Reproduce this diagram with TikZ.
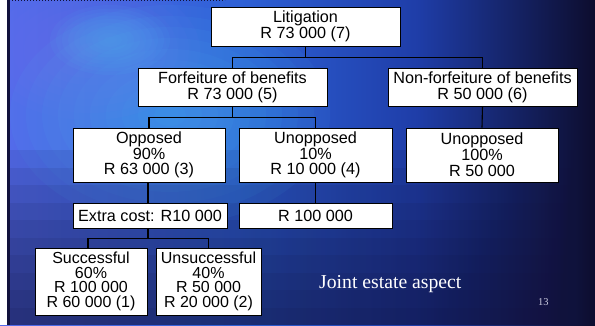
\documentclass[tikz,border=0pt]{standalone}
\usepackage{fontspec}
\setmainfont{Liberation Sans}
\newfontfamily\serifface{Liberation Serif}
\definecolor{navy}{RGB}{18,18,60}
\definecolor{glowc}{RGB}{75,195,245}
\definecolor{lav}{RGB}{125,120,240}
\definecolor{pgnum}{RGB}{205,205,225}
\pgfdeclarehorizontalshading{bgh}{100bp}{rgb(0bp)=(0.33,0.42,0.92); rgb(25bp)=(0.33,0.42,0.92); rgb(45bp)=(0.18,0.38,0.84); rgb(60bp)=(0.12,0.24,0.66); rgb(75bp)=(0.05,0.05,0.18); rgb(100bp)=(0.05,0.05,0.18)}
\begin{document}
\begin{tikzpicture}[x=1pt,y=-1pt,
  box/.style={draw=black, fill=white, line width=0.8pt, inner sep=0pt, align=center,
    font=\fontsize{16.2}{15.8}\selectfont},
  conn/.style={draw=black, line width=1.1pt}]
\useasboundingbox (0,0) rectangle (595,325);
% background
\shade[shading=bgh] (0,0) rectangle (595,325);
\foreach \k in {1,...,10}{
  \fill[lav, fill opacity=0.05] (90,50) ellipse [x radius={11*\k}, y radius={7*\k}];
  \fill[glowc, fill opacity=0.06] (170,115) ellipse [x radius={16*\k}, y radius={11*\k}];
  \fill[glowc, fill opacity=0.06] (110,40) ellipse [x radius={6*\k}, y radius={3.5*\k}];
  \fill[navy, fill opacity=0.09] (0,{325-17.5*\k}) rectangle (595,325);
}
\fill[white] (0,0) rectangle (7,325);
\draw[navy, line width=2.5pt] (8.5,0) -- (8.5,325);
\draw[navy, line width=1pt, dotted] (9,0.5) -- (225,0.5);
% nodes
\node[box, minimum width=189, minimum height=39] (lit) at (305.5,26.5) {Litigation\\R 73 000 (7)};
\node[box, minimum width=189, minimum height=38] (forf) at (232.5,87) {Forfeiture of benefits\\R 73 000 (5)};
\node[box, minimum width=189, minimum height=38] (nonf) at (482.5,87) {Non-forfeiture of benefits\\R 50 000 (6)};
\node[box, minimum width=152, minimum height=54] (opp) at (149,155) {Opposed\\90\%\\R 63 000 (3)};
\node[box, minimum width=153, minimum height=54] (unop) at (315.5,155) {Unopposed\\10\%\\R 10 000 (4)};
\node[box, minimum width=152, minimum height=54] (unopc) at (482,155) {Unopposed\\100\%\\R 50 000};
\node[box, minimum width=154, minimum height=25] (extra) at (150,215.5) {Extra cost: R10 000};
\node[box, minimum width=153, minimum height=25] (rhund) at (315.5,215.5) {R 100 000};
\node[box, minimum width=112, minimum height=67, font=\fontsize{16}{14.6}\selectfont] (succ) at (91,281.5) {Successful\\60\%\\R 100 000\\R 60 000 (1)};
\node[box, minimum width=105, minimum height=67, font=\fontsize{16}{14.6}\selectfont] (unsucc) at (208.5,281.5) {Unsuccessful\\40\%\\R 50 000\\R 20 000 (2)};
\node[anchor=base west, inner sep=0pt, text=white, font=\serifface\fontsize{19.7}{20}\selectfont] (title) at (319,288) {Joint estate aspect};
\node[anchor=base west, inner sep=0pt, text=pgnum, font=\serifface\fontsize{10.5}{11}\selectfont] (pnum) at (538,305) {13};
% connectors
\draw[conn] (lit.south) -- ++(0,11) -| (forf.north);
\draw[conn] (lit.south) -- ++(0,11) -| (nonf.north);
\draw[conn] (forf.south) -- ++(0,11) -| (opp.north);
\draw[conn] (forf.south) -- ++(0,11) -| (unop.north);
\draw[conn] (nonf.south) -- (unopc.north);
\draw[conn] ([xshift=-1pt]opp.south) -- ([xshift=-1pt]opp.south |- extra.north);
\draw[conn] (unop.south) -- (rhund.north);
\draw[conn] ([xshift=-2pt]extra.south) -- ++(0,10) -| ([xshift=-3pt]succ.north);
\draw[conn] ([xshift=-2pt]extra.south) -- ++(0,10) -| (unsucc.north);
\end{tikzpicture}
\end{document}
